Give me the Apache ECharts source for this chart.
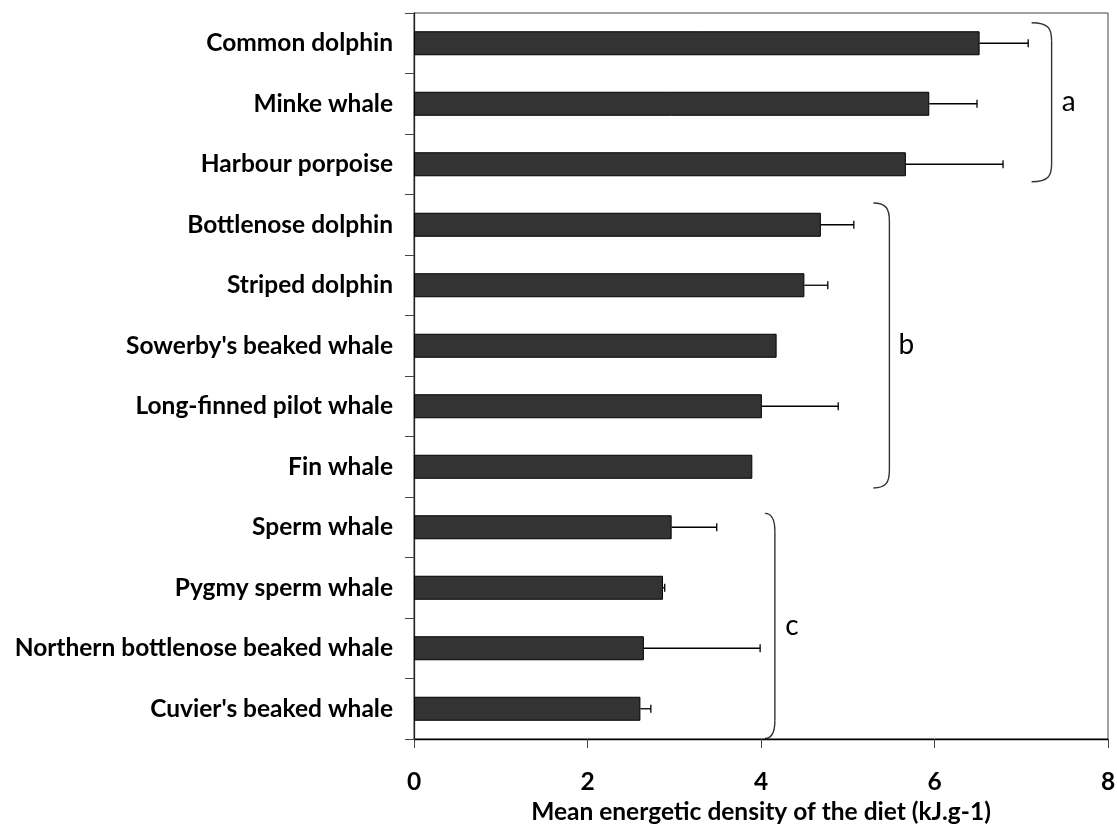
<!DOCTYPE html>
<html>
<head>
<meta charset="utf-8">
<title>Mean energetic density of the diet</title>
<script src="https://cdn.jsdelivr.net/npm/echarts@6/dist/echarts.min.js"></script>
<style>
    html, body { margin: 0; padding: 0; background: #fff; }
    #chart { width: 1117px; height: 829px; }
</style>
</head>
<body>
<div id="chart"></div>
<script>
// data
const species = [
    "Common dolphin", "Minke whale", "Harbour porpoise", "Bottlenose dolphin",
    "Striped dolphin", "Sowerby's beaked whale", "Long-finned pilot whale", "Fin whale",
    "Sperm whale", "Pygmy sperm whale", "Northern bottlenose beaked whale", "Cuvier's beaked whale"
];
const meanDensity = [6.52, 5.94, 5.67, 4.69, 4.50, 4.18, 4.01, 3.90, 2.97, 2.87, 2.65, 2.61];
const errorPlus = [0.56, 0.55, 1.12, 0.38, 0.27, 0, 0.88, 0, 0.52, 0.02, 1.34, 0.12];
const xTicks = [0, 2, 4, 6, 8];

// significance groups (letter + first/last species index)
const groupLetters = ['a', 'b', 'c'];
const groupFirst = [0, 3, 8];
const groupLast = [2, 7, 11];

(function () {
    const FONT = 'Lato'
    const FS = 24.5
    const myChart = echarts.init(document.getElementById('chart'))

    const errData = meanDensity.map((m, i) => [i, m, m + errorPlus[i]])

    const option = {
        animation: false,
        grid: {
            left: 414,
            right: 9,
            top: 13,
            bottom: 90,
            containLabel: false,
            outerBoundsMode: 'none',
            show: true,
            borderColor: '#444',
            borderWidth: 1
        },
        xAxis: {
            type: 'value',
            min: xTicks[0],
            max: xTicks[xTicks.length - 1],
            interval: xTicks[1] - xTicks[0],
            name: 'Mean energetic density of the diet (kJ.g-1)',
            nameLocation: 'middle',
            nameGap: 61,
            nameTextStyle: { fontFamily: FONT, fontWeight: 'bold', fontSize: FS, color: '#000' },
            axisLine: { show: true, lineStyle: { color: '#000', width: 1.3 } },
            axisTick: { show: true, length: 9, lineStyle: { color: '#444' } },
            axisLabel: { fontFamily: FONT, fontWeight: 'bold', fontSize: FS, color: '#000', margin: 31 },
            splitLine: { show: false }
        },
        yAxis: {
            type: 'category',
            data: species,
            inverse: true,
            axisLine: { show: true, lineStyle: { color: '#222', width: 1.3 } },
            axisTick: { show: true, length: 9, lineStyle: { color: '#444' } },
            axisLabel: { fontFamily: FONT, fontWeight: 'bold', fontSize: FS, color: '#000', margin: 21 }
        },
        series: [
            {
                type: 'bar',
                data: meanDensity,
                barWidth: 24,
                itemStyle: { color: '#333333', borderColor: '#000', borderWidth: 1 }
            },
            {
                type: 'custom',
                data: errData,
                encode: { x: [1, 2], y: 0 },
                z: 5,
                renderItem: function (params, api) {
                    const idx = api.value(0)
                    if (!(api.value(2) > api.value(1))) return
                    const p0 = api.coord([api.value(1), idx])
                    const p1 = api.coord([api.value(2), idx])
                    const s = { stroke: '#000', lineWidth: 1.3 }
                    return {
                        type: 'group',
                        children: [
                            { type: 'line', shape: { x1: p0[0], y1: p0[1], x2: p1[0], y2: p1[1] }, style: s },
                            { type: 'line', shape: { x1: p1[0], y1: p1[1] - 4, x2: p1[0], y2: p1[1] + 4 }, style: s }
                        ]
                    }
                }
            }
        ]
    }

    myChart.setOption(option)

    // braces to the right of each group
    const braceX = [7.35, 5.48, 4.16]      // x of brace spine, data units
    const braceW = [20, 16, 10]            // horizontal reach of the curls, px
    const braceTop = [-0.34, -0.36, -0.23] // offset from first category, in bands
    const braceBot = [0.29, 0.35, 0.49]    // offset from last category, in bands
    const c0 = myChart.convertToPixel({ yAxisIndex: 0 }, 0)
    const step = myChart.convertToPixel({ yAxisIndex: 0 }, 1) - c0
    const lineStyle = { stroke: '#333', lineWidth: 1.4, fill: null }
    const graphics = []
    groupLetters.forEach((letter, g) => {
        const xs = myChart.convertToPixel({ xAxisIndex: 0 }, braceX[g])
        const x0 = xs - braceW[g]
        const yt = c0 + (groupFirst[g] + braceTop[g]) * step
        const yb = c0 + (groupLast[g] + braceBot[g]) * step
        const r = 18
        graphics.push({
            type: 'bezierCurve',
            shape: { x1: x0, y1: yt, cpx1: xs - 3, cpy1: yt, cpx2: xs, cpy2: yt + 6, x2: xs, y2: yt + r },
            style: lineStyle
        })
        graphics.push({
            type: 'line',
            shape: { x1: xs, y1: yt + r, x2: xs, y2: yb - r },
            style: lineStyle
        })
        graphics.push({
            type: 'bezierCurve',
            shape: { x1: xs, y1: yb - r, cpx1: xs, cpy1: yb - 6, cpx2: xs - 3, cpy2: yb, x2: x0, y2: yb },
            style: lineStyle
        })
        graphics.push({
            type: 'text',
            x: xs + 17,
            y: (yt + yb) / 2,
            style: {
                text: letter,
                font: '28px Lato',
                fill: '#000',
                align: 'center',
                verticalAlign: 'middle'
            }
        })
    })
    myChart.setOption({ graphic: graphics })

    window.addEventListener('resize', function () {
        myChart.resize()
    })
})();
</script>
</body>
</html>
